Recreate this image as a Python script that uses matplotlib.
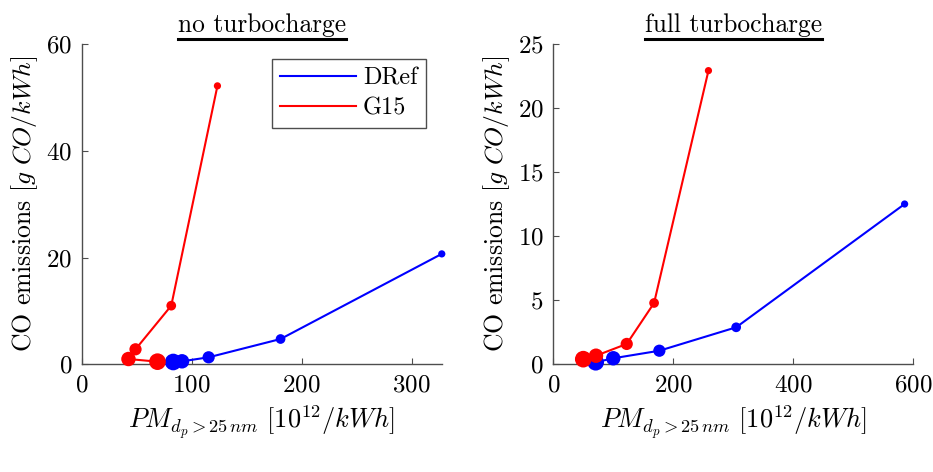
import matplotlib
matplotlib.use("Agg")
import matplotlib.pyplot as plt
from matplotlib.lines import Line2D

plt.rcParams["font.family"] = "serif"
plt.rcParams["font.serif"] = ["cmr10"]
plt.rcParams["mathtext.fontset"] = "cm"
plt.rcParams["axes.formatter.use_mathtext"] = True

# no turbocharge
nt_dref_x = [327.4, 180.8, 115.4, 91.2, 83.2]
nt_dref_y = [20.7, 4.74, 1.31, 0.56, 0.43]
nt_g15_x = [123.4, 81.4, 48.9, 42.5, 68.9]
nt_g15_y = [52.2, 10.99, 2.81, 0.99, 0.49]

# full turbocharge
ft_dref_x = [585.5, 304.8, 176.8, 100.0, 70.7]
ft_dref_y = [12.52, 2.89, 1.06, 0.47, 0.16]
ft_g15_x = [258.6, 168.0, 122.4, 71.2, 50.0]
ft_g15_y = [22.94, 4.79, 1.59, 0.67, 0.40]

# marker diameter (pt) for each operating point
msize = [5.2, 7.0, 8.8, 10.4, 12.0]

titles = ["no turbocharge", "full turbocharge"]
ylims = [(0, 60), (0, 25)]
xlims = [(0, 327.4), (0, 600)]
yticks = [[0, 20, 40, 60], [0, 5, 10, 15, 20, 25]]
xticks = [[0, 100, 200, 300], [0, 200, 400, 600]]

fig = plt.figure(figsize=(9.33, 4.72), dpi=100)
ax1 = fig.add_axes([0.0876, 0.2282, 0.3859, 0.678])
ax2 = fig.add_axes([0.5930, 0.2282, 0.3859, 0.678])

data = [(nt_dref_x, nt_dref_y, nt_g15_x, nt_g15_y),
        (ft_dref_x, ft_dref_y, ft_g15_x, ft_g15_y)]

title_objs = []
for i, ax in enumerate([ax1, ax2]):
    dx, dy, gx, gy = data[i]
    ax.plot(dx, dy, color="blue", lw=1.5, label="DRef", zorder=2, clip_on=False)
    ax.scatter(dx, dy, s=[m ** 2 for m in msize], color="blue", zorder=3,
               linewidths=0, clip_on=False)
    ax.plot(gx, gy, color="red", lw=1.5, label="G15", zorder=4, clip_on=False)
    ax.scatter(gx, gy, s=[m ** 2 for m in msize], color="red", zorder=5,
               linewidths=0, clip_on=False)

    ax.set_xlim(*xlims[i])
    ax.set_ylim(*ylims[i])
    ax.set_xticks(xticks[i])
    ax.set_yticks(yticks[i])
    ax.spines["top"].set_visible(False)
    ax.spines["right"].set_visible(False)
    for s in ["left", "bottom"]:
        ax.spines[s].set_color("0.3")
        ax.spines[s].set_linewidth(1.0)
    ax.tick_params(direction="in", length=4, width=0.8, color="0.3",
                   labelsize=18, pad=7)
    ax.set_xlabel(r"$PM_{d_p>25\,nm}\ [10^{12}/kWh]$", fontsize=19, labelpad=5)
    ax.set_ylabel(r"CO emissions $[g\ CO/kWh]$", fontsize=18.5, labelpad=4)
    t = ax.set_title(titles[i], fontsize=18.3, pad=9)
    title_objs.append(t)

leg = ax1.legend(loc="upper right", bbox_to_anchor=(0.956, 0.953), fontsize=17.5,
                 handlelength=3.1, fancybox=False, framealpha=1,
                 edgecolor="0.3", borderpad=0.35, labelspacing=0.3,
                 handletextpad=0.3, borderaxespad=0)
leg.get_frame().set_linewidth(1.0)
leg.set_zorder(10)

# underline the titles
fig.canvas.draw()
renderer = fig.canvas.get_renderer()
for t in title_objs:
    bb = t.get_window_extent(renderer).transformed(fig.transFigure.inverted())
    y = bb.y0 - 0.004
    fig.add_artist(Line2D([bb.x0, bb.x1], [y, y], color="black", lw=2.2,
                          transform=fig.transFigure))

fig.savefig("out.png", dpi=100)
